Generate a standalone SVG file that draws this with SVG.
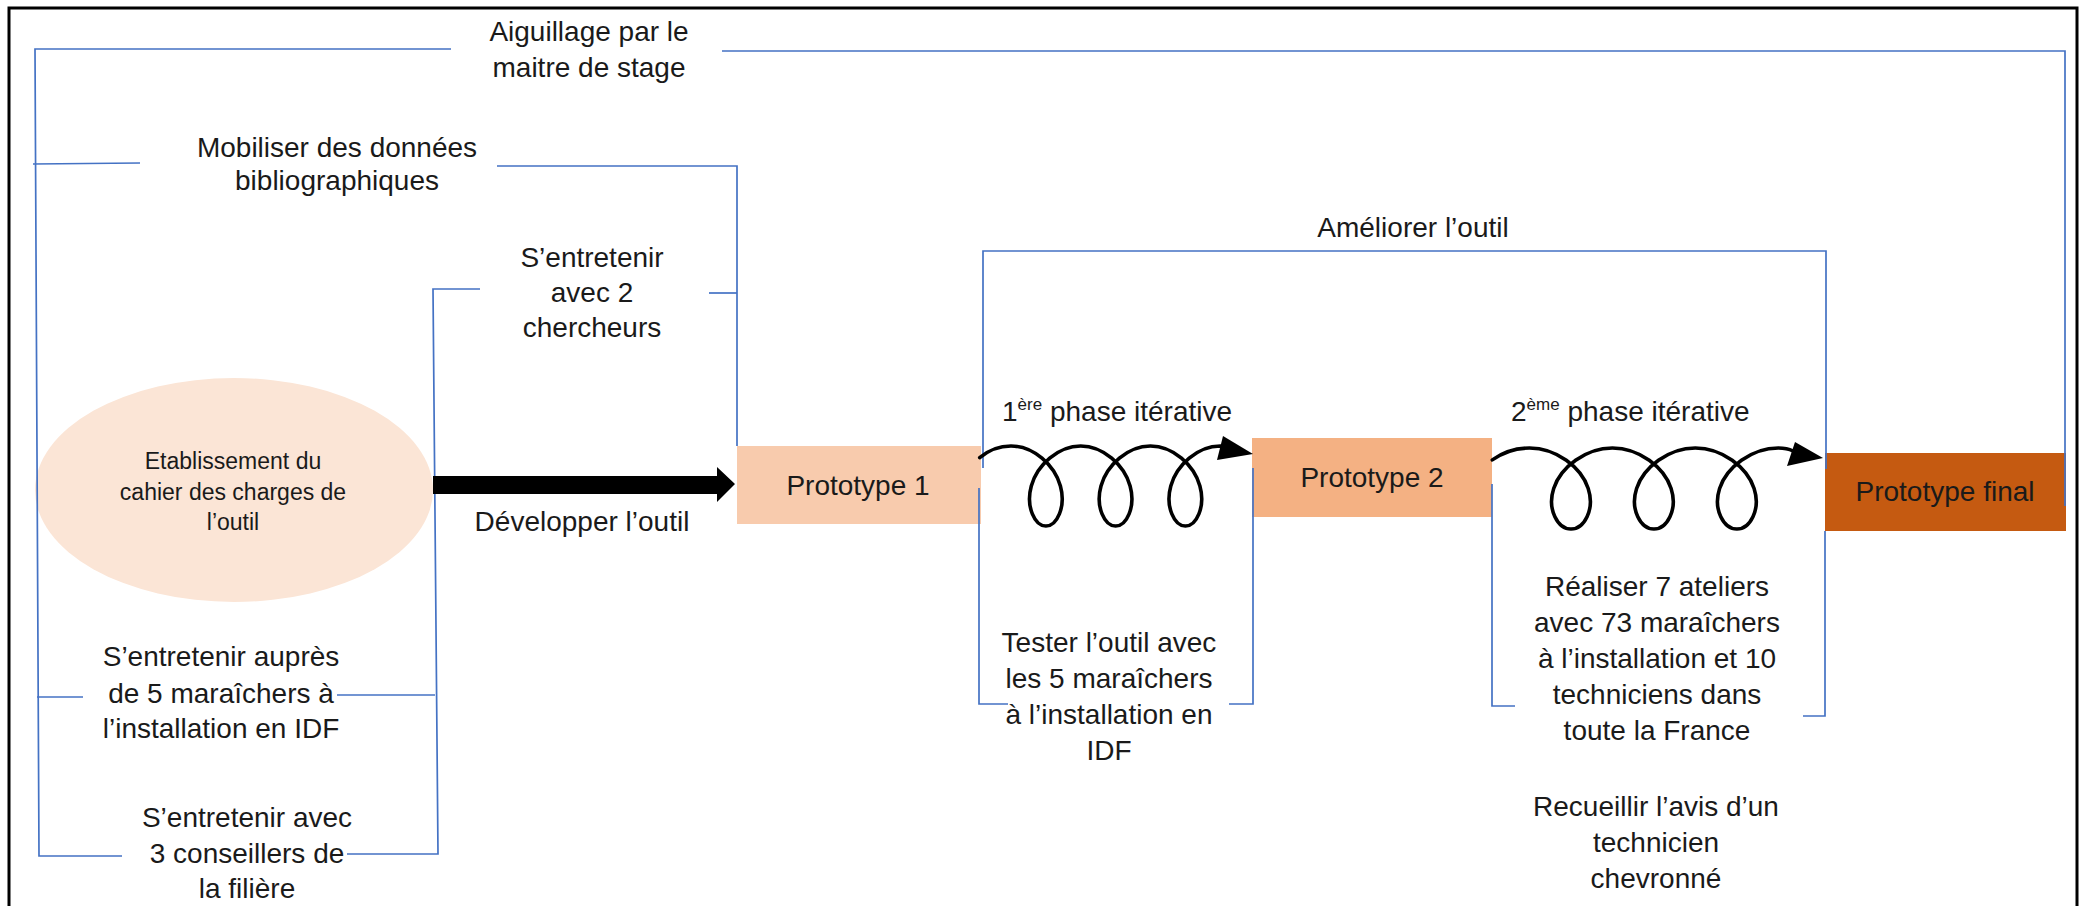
<svg xmlns="http://www.w3.org/2000/svg" width="2085" height="906" viewBox="0 0 2085 906">
  <style>
    .t { font-family: "Liberation Sans", Arial, sans-serif; font-size: 28px; fill: #1a1a1a; text-anchor: middle; }
    .ts { font-family: "Liberation Sans", Arial, sans-serif; font-size: 28px; fill: #1a1a1a; }
    .sup { font-size: 17px; }
    .small { font-size: 23px; }
    .link { fill: none; stroke: #4472C4; stroke-width: 1.7; }
    .coil { fill: none; stroke: #000; stroke-width: 3.6; stroke-linecap: round; }
    .head { fill: #000; }
  </style>

  <rect width="2085" height="906" fill="#ffffff"/>
  <!-- outer frame (open at the bottom) -->
  <path d="M9,906 V8 H2077 V906" fill="none" stroke="#000" stroke-width="3"/>

  <!-- nodes -->
  <g id="cahier-des-charges">
    <ellipse cx="234" cy="490" rx="199" ry="112" fill="#FBE5D6"/>
    <text class="t small" x="233" y="469">Etablissement du</text>
    <text class="t small" x="233" y="500">cahier des charges de</text>
    <text class="t small" x="233" y="530">l’outil</text>
  </g>

  <g id="prototype-1">
    <rect x="737" y="446" width="244" height="78" fill="#F8CBAD"/>
    <text class="t" x="858" y="495">Prototype 1</text>
  </g>

  <g id="prototype-2">
    <rect x="1252" y="438" width="240" height="79" fill="#F4B183"/>
    <text class="t" x="1372" y="487">Prototype 2</text>
  </g>

  <g id="prototype-final">
    <rect x="1825" y="453" width="241" height="78" fill="#C55A11"/>
    <text class="t" x="1945" y="501">Prototype final</text>
  </g>

  <g id="aiguillage">
    <text class="t" x="589" y="41">Aiguillage par le</text>
    <text class="t" x="589" y="77">maitre de stage</text>
  </g>

  <g id="bibliographie">
    <text class="t" x="337" y="157">Mobiliser des données</text>
    <text class="t" x="337" y="190">bibliographiques</text>
  </g>

  <g id="chercheurs">
    <text class="t" x="592" y="267">S’entretenir</text>
    <text class="t" x="592" y="302">avec 2</text>
    <text class="t" x="592" y="337">chercheurs</text>
  </g>

  <g id="maraichers-idf">
    <text class="t" x="221" y="666">S’entretenir auprès</text>
    <text class="t" x="221" y="703">de 5 maraîchers à</text>
    <text class="t" x="221" y="738">l’installation en IDF</text>
  </g>

  <g id="conseillers">
    <text class="t" x="247" y="827">S’entretenir avec</text>
    <text class="t" x="247" y="863">3 conseillers de</text>
    <text class="t" x="247" y="898">la filière</text>
  </g>

  <g id="ameliorer">
    <text class="t" x="1413" y="237">Améliorer l’outil</text>
  </g>

  <g id="developper">
    <text class="t" x="582" y="531">Développer l’outil</text>
  </g>

  <g id="phase-1">
    <text class="ts" x="1002" y="421">1<tspan class="sup" dy="-11">ère</tspan><tspan dy="11"> phase itérative</tspan></text>
  </g>

  <g id="phase-2">
    <text class="ts" x="1511" y="421">2<tspan class="sup" dy="-11">ème</tspan><tspan dy="11"> phase itérative</tspan></text>
  </g>

  <g id="tester">
    <text class="t" x="1109" y="652">Tester l’outil avec</text>
    <text class="t" x="1109" y="688">les 5 maraîchers</text>
    <text class="t" x="1109" y="724">à l’installation en</text>
    <text class="t" x="1109" y="760">IDF</text>
  </g>

  <g id="ateliers">
    <text class="t" x="1657" y="596">Réaliser 7 ateliers</text>
    <text class="t" x="1657" y="632">avec 73 maraîchers</text>
    <text class="t" x="1657" y="668">à l’installation et 10</text>
    <text class="t" x="1657" y="704">techniciens dans</text>
    <text class="t" x="1657" y="740">toute la France</text>
  </g>

  <g id="technicien-chevronne">
    <text class="t" x="1656" y="816">Recueillir l’avis d’un</text>
    <text class="t" x="1656" y="852">technicien</text>
    <text class="t" x="1656" y="888">chevronné</text>
  </g>

  <!-- connectors -->
  <g id="connectors">
    <!-- left spine: supervisor guidance and inputs -->
    <path class="link" d="M451,49 H35 L39,856 H122"/>
    <path class="link" d="M33,164 L140,163"/>
    <path class="link" d="M37,697 H83"/>
    <path class="link" d="M722,51 H2065 V506"/>
    <!-- bibliography to prototype 1 -->
    <path class="link" d="M497,166 H737 V446"/>
    <!-- interviews bracket around the specification -->
    <path class="link" d="M480,289 H433 L438,854 H347"/>
    <path class="link" d="M337,695 H435"/>
    <path class="link" d="M709,293 H737"/>
    <!-- improvement loop -->
    <path class="link" d="M983,468 V251 H1826 V469"/>
    <!-- first test bracket -->
    <path class="link" d="M979,488 V704 H1008"/>
    <path class="link" d="M1229,704 H1253 V468"/>
    <!-- workshop bracket -->
    <path class="link" d="M1492,484 V706 H1515"/>
    <path class="link" d="M1803,716 H1825 V531"/>

    <!-- thick development arrow -->
    <polygon class="head" points="433,476 717,476 717,467 735,484 717,502 717,494 433,494"/>

    <!-- first iterative coil -->
    <path class="coil" d="M979.7,457.7 C988.5,450.3 999.7,446 1011,446
      C1033.6,446 1054.6,465.1 1060.4,486 C1066.2,506.9 1056.8,526 1045.9,526
      C1035,526 1025.5,506.9 1031.3,486 C1037.1,465.1 1058.1,446 1080.7,446
      C1103.3,446 1124.3,465.1 1130.1,486 C1135.9,506.9 1126.5,526 1115.6,526
      C1104.7,526 1095.2,506.9 1101,486 C1106.8,465.1 1127.8,446 1150.4,446
      C1173.1,446 1194.1,465.1 1199.9,486 C1205.7,506.9 1196.3,526 1185.4,526
      C1174.5,526 1165,506.9 1170.8,486 C1176.6,465.1 1197.6,446 1220.2,446
      L1224,447"/>
    <polygon class="head" points="1253,454 1223,436 1217,460"/>

    <!-- second iterative coil -->
    <path class="coil" d="M1492.3,459.9 C1502.8,452.4 1516.1,448 1529.5,448
      C1556.3,448 1581.3,467.3 1588.2,488.5 C1595.1,509.7 1584,529 1571,529
      C1558,529 1546.8,509.7 1553.7,488.5 C1560.6,467.3 1585.6,448 1612.4,448
      C1639.3,448 1664.2,467.3 1671.1,488.5 C1678,509.7 1666.9,529 1653.9,529
      C1640.9,529 1629.7,509.7 1636.6,488.5 C1643.5,467.3 1668.5,448 1695.3,448
      C1722.2,448 1747.2,467.3 1754.1,488.5 C1761,509.7 1749.9,529 1736.9,529
      C1723.9,529 1712.7,509.7 1719.6,488.5 C1726.5,467.3 1751.5,448 1778.3,448
      C1784,448 1789,449 1793,451"/>
    <polygon class="head" points="1823,458 1795,442 1787,466"/>
  </g>
</svg>
